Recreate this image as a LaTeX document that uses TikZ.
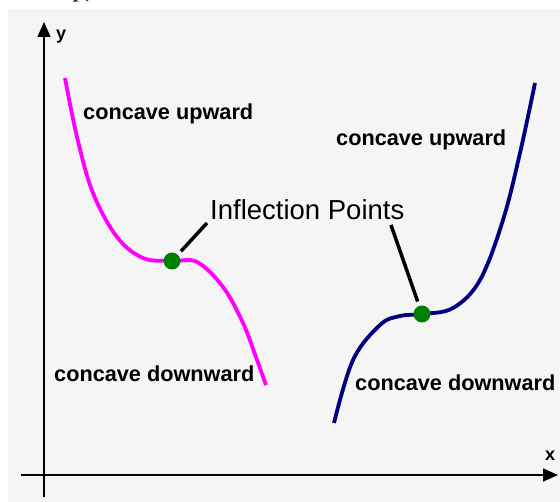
\documentclass[tikz,border=0pt]{standalone}
\usepackage{fontspec}
\setmainfont{Liberation Sans}
\newfontfamily\pageserif{Liberation Serif}
\usetikzlibrary{arrows.meta, positioning}

\definecolor{pagegrey}{HTML}{F5F5F5}
\definecolor{dotgreen}{HTML}{008000}
\definecolor{curvepink}{HTML}{FF00FF}
\definecolor{curvenavy}{HTML}{000080}

\begin{document}
\begin{tikzpicture}[x=1pt, y=-1pt, >={Triangle[length=15pt,width=13pt]},
    lbl/.style={anchor=base west, inner sep=0pt, font=\fontsize{21.7}{24}\selectfont\bfseries},
    axlbl/.style={anchor=base west, inner sep=0pt, font=\fontsize{18}{20}\selectfont\bfseries},
    ipt/.style={circle, fill=dotgreen, inner sep=0pt, minimum size=17pt},
    lead/.style={line width=3.5pt, shorten >=4.5pt},
    curve/.style={line width=3.8pt, smooth, tension=0.6}]
  \useasboundingbox (0,0) rectangle (560,502);
  \fill[pagegrey] (8,9) rectangle (560,502);
  \begin{scope}
    \clip (0,0) rectangle (560,9);
    \node[anchor=base east, inner sep=0pt, font=\pageserif\fontsize{26}{28}\selectfont] (cut) at (101,-3) {up),};
  \end{scope}
  % axes
  \coordinate (ybot) at (44,497);
  \coordinate (ytop) at (44,22);
  \coordinate (xleft) at (21,475);
  \coordinate (xright) at (558,475);
  \draw[->, line width=1.5pt] (ybot) -- (ytop);
  \draw[->, line width=1.5pt] (xleft) -- (xright);
  \node[axlbl] (ylab) at (56,39.5) {y};
  \node[axlbl] (xlab) at (545,461) {x};
  % the two curves
  \draw[curve, curvepink] plot coordinates {(65,78) (77,137) (93,193) (117,237) (143,258)
      (172,261) (197,262) (223,287) (243,323) (257,360) (266,385)};
  \draw[curve, curvenavy] plot coordinates {(334,423) (353,360) (380,325) (400,316)
      (422,314) (453,308) (480,280) (503,220) (520,153) (535,83)};
  \node[ipt] (P1) at (172,261) {};
  \node[ipt] (P2) at (422,314) {};
  % labels
  \node[lbl] (upL) at (83,120) {concave upward};
  \node[lbl] (upR) at (336,146) {concave upward};
  \node[lbl] (downL) at (54,382) {concave downward};
  \node[lbl] (downR) at (355,391) {concave downward};
  \node[anchor=base west, inner sep=0pt, font=\fontsize{27.5}{30}\selectfont] (infl) at (210,220) {Inflection Points};
  \coordinate (t1) at (207,223);
  \coordinate (t2) at (391,225);
  \draw[lead] (t1) -- (P1);
  \draw[lead] (t2) -- (P2);
\end{tikzpicture}
\end{document}
